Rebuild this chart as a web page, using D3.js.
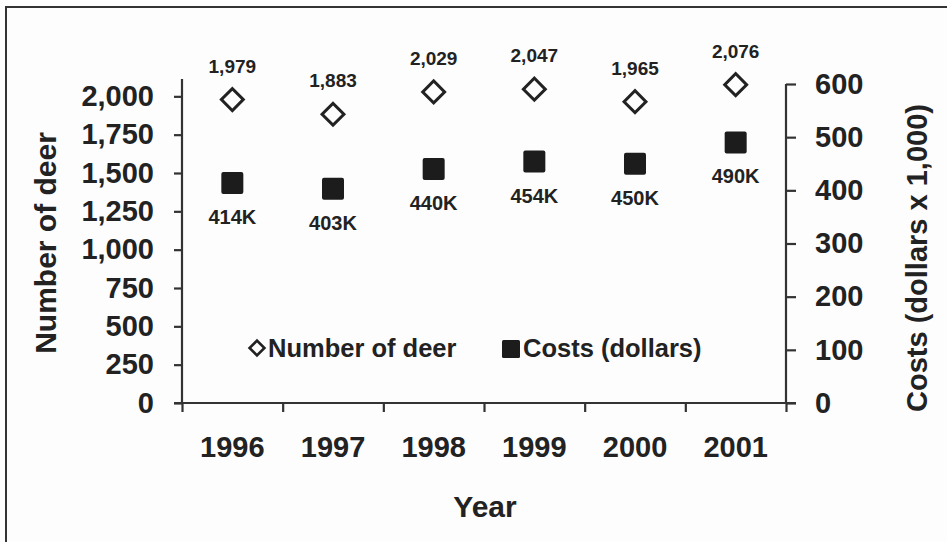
<!DOCTYPE html>
<html>
<head>
<meta charset="utf-8">
<script src="https://cdn.jsdelivr.net/npm/d3@7"></script>
<style>
  body { margin: 0; background: #fdfdfd; }
  svg { display: block; font-family: "Liberation Sans", Arial, sans-serif; }
  text { fill: #222; }
</style>
</head>
<body>
<svg width="947" height="542"></svg>
<script>
// data
const years = ["1996", "1997", "1998", "1999", "2000", "2001"];
const deer = [1979, 1883, 2029, 2047, 1965, 2076];
const costs = [414, 403, 440, 454, 450, 490]; // dollars x 1,000
const deerTicks = [0, 250, 500, 750, 1000, 1250, 1500, 1750, 2000];
const costTicks = [0, 100, 200, 300, 400, 500, 600];

const svg = d3.select("svg");
const ink = "#222";

// frame of the scanned figure
svg.append("rect")
  .attr("x", 6).attr("y", 7)
  .attr("width", 945).attr("height", 560)
  .attr("fill", "#fdfdfd")
  .attr("stroke", "#333")
  .attr("stroke-width", 2);

const left = 182, right = 786, bottom = 403;

const x = d3.scaleBand().domain(years).range([left, right]);
const xEdge = d3.scaleLinear().domain([0, years.length]).range([left, right]);
const yL = d3.scaleLinear().domain([0, 2100]).range([bottom, 81]);
const yR = d3.scaleLinear().domain([0, 600]).range([bottom, 84]);

// left axis
const yLG = svg.append("g")
  .attr("transform", `translate(${left},0)`)
  .call(d3.axisLeft(yL).tickValues(deerTicks).tickSize(8).tickPadding(20).tickFormat(d3.format(",")));
yLG.select(".domain").attr("d", `M0,${bottom}V79`);

// right axis
const yRG = svg.append("g")
  .attr("transform", `translate(${right},0)`)
  .call(d3.axisRight(yR).tickValues(costTicks).tickSize(10).tickPadding(19));
yRG.select(".domain").attr("d", `M0,${bottom}V84`);

// x axis: ticks sit between the years
const xG = svg.append("g")
  .attr("transform", `translate(0,${bottom})`)
  .call(d3.axisBottom(xEdge).ticks(years.length).tickSize(9).tickFormat(""));
xG.select(".domain").attr("d", `M${left - 8},0H${right + 10}`);

const yearG = svg.append("g")
  .attr("transform", `translate(0,${bottom})`)
  .call(d3.axisBottom(x).tickSize(0).tickPadding(33));
yearG.select(".domain").remove();

svg.selectAll(".domain, .tick line").attr("stroke", "#333").attr("stroke-width", 2.2);
svg.selectAll(".tick text").attr("fill", ink).attr("font-size", 29).attr("font-weight", "bold");

// axis titles
svg.append("text")
  .attr("x", 485).attr("y", 517)
  .attr("text-anchor", "middle")
  .attr("font-size", 30).attr("font-weight", "bold")
  .text("Year");

svg.append("text")
  .attr("transform", "translate(56,243) rotate(-90)")
  .attr("text-anchor", "middle")
  .attr("font-size", 30).attr("font-weight", "bold")
  .text("Number of deer");

svg.append("text")
  .attr("transform", "translate(927,258) rotate(-90)")
  .attr("text-anchor", "middle")
  .attr("font-size", 29).attr("font-weight", "bold")
  .text("Costs (dollars x 1,000)");

// deer markers
const diamond = d3.symbol().type(d3.symbolSquare).size(240);
const pts = years.map((yr, i) => ({ yr, deer: deer[i], cost: costs[i] }));

svg.append("g").selectAll("path").data(pts).enter().append("path")
  .attr("d", diamond)
  .attr("transform", d => `translate(${x(d.yr) + x.bandwidth() / 2},${yL(d.deer)}) rotate(45)`)
  .attr("fill", "#fdfdfd")
  .attr("stroke", ink)
  .attr("stroke-width", 3);

svg.append("g").selectAll("text").data(pts).enter().append("text")
  .attr("x", d => x(d.yr) + x.bandwidth() / 2)
  .attr("y", d => yL(d.deer) - 27)
  .attr("text-anchor", "middle")
  .attr("font-size", 19).attr("font-weight", "bold")
  .text(d => d3.format(",")(d.deer));

// cost markers
const sq = 22;
svg.append("g").selectAll("rect").data(pts).enter().append("rect")
  .attr("x", d => x(d.yr) + x.bandwidth() / 2 - sq / 2)
  .attr("y", d => yR(d.cost) - sq / 2)
  .attr("width", sq).attr("height", sq)
  .attr("rx", 2)
  .attr("fill", "#1c1c1c");

svg.append("g").selectAll("text").data(pts).enter().append("text")
  .attr("x", d => x(d.yr) + x.bandwidth() / 2)
  .attr("y", d => yR(d.cost) + 41)
  .attr("text-anchor", "middle")
  .attr("font-size", 20).attr("font-weight", "bold")
  .text(d => d.cost + "K");

// legend
const lg = svg.append("g");
lg.append("path")
  .attr("d", d3.symbol().type(d3.symbolSquare).size(110))
  .attr("transform", "translate(257,348) rotate(45)")
  .attr("fill", "#fdfdfd").attr("stroke", ink).attr("stroke-width", 2.6);
lg.append("text")
  .attr("x", 268).attr("y", 357)
  .attr("font-size", 25.5).attr("font-weight", "bold")
  .text("Number of deer");
lg.append("rect")
  .attr("x", 502).attr("y", 340).attr("width", 18).attr("height", 18).attr("rx", 1.5)
  .attr("fill", "#1c1c1c");
lg.append("text")
  .attr("x", 523).attr("y", 357)
  .attr("font-size", 25.5).attr("font-weight", "bold")
  .text("Costs (dollars)");
</script>
</body>
</html>
